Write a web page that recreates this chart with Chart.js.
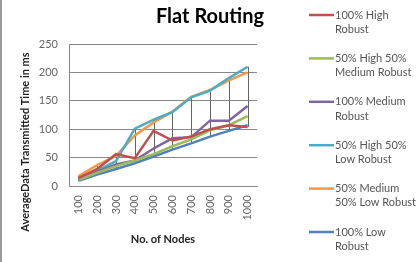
<!DOCTYPE html>
<html>
<head>
<meta charset="utf-8">
<script src="https://cdn.jsdelivr.net/npm/chart.js@4.4.0/dist/chart.umd.min.js"></script>
<style>
html, body { margin: 0; padding: 0; background: #fff; }
#wrap { width: 418px; height: 262px; }
</style>
</head>
<body>
<div id="wrap"><canvas id="chart" width="418" height="262"></canvas></div>
<script>
// values (ms)
const nodes = ['100', '200', '300', '400', '500', '600', '700', '800', '900', '1000'];
const highRobust = [14, 30, 56, 49, 97, 80, 87, 100, 107, 104];
const highMediumRobust = [11, 23, 35, 45, 56, 70, 82, 98, 107, 123];
const mediumRobust = [12, 25, 38, 45, 66, 84, 86, 115, 115, 141];
const highLowRobust = [13, 27, 44, 101, 117, 130, 156, 168, 190, 210];
const mediumLowRobust = [17, 37, 53, 89, 112, 131, 157, 169, 186, 200];
const lowRobust = [9, 20, 30, 40, 52, 64, 75, 87, 97, 107];
const yTicks = [0, 50, 100, 150, 200, 250];

const seriesNames = [
    ['100% High', 'Robust'],
    ['50% High 50%', 'Medium Robust'],
    ['100% Medium', 'Robust'],
    ['50% High 50%', 'Low Robust'],
    ['50% Medium', '50% Low Robust'],
    ['100% Low', 'Robust']
];
const seriesValues = [highRobust, highMediumRobust, mediumRobust, highLowRobust, mediumLowRobust, lowRobust];
const seriesColors = ['#C0504D', '#9BBB59', '#8064A2', '#4BACC6', '#F79646', '#4F81BD'];

const FONT = 'Lato, "Liberation Sans", sans-serif';

// high-low lines between the top and bottom series at each category
const highLowLines = {
    id: 'highLowLines',
    beforeDatasetsDraw(chart) {
        const ctx = chart.ctx;
        const x = chart.scales.x;
        const y = chart.scales.y;
        ctx.save();
        ctx.strokeStyle = '#666';
        ctx.lineWidth = 1;
        nodes.forEach((n, i) => {
            const vals = seriesValues.map(s => s[i]);
            const px = Math.round(x.getPixelForValue(i)) + 0.5;
            ctx.beginPath();
            ctx.moveTo(px, y.getPixelForValue(Math.max(...vals)));
            ctx.lineTo(px, y.getPixelForValue(Math.min(...vals)));
            ctx.stroke();
        });
        ctx.restore();
    }
};

// title, y axis title and the wrapped legend on the right
const decorations = {
    id: 'decorations',
    afterDraw(chart) {
        const ctx = chart.ctx;
        ctx.save();

        ctx.strokeStyle = '#999';
        ctx.lineWidth = 2;
        ctx.beginPath();
        ctx.moveTo(1, 0);
        ctx.lineTo(1, 262);
        ctx.stroke();

        ctx.fillStyle = '#000';
        ctx.font = 'bold 20px ' + FONT;
        ctx.textAlign = 'center';
        ctx.textBaseline = 'middle';
        ctx.fillText('Flat Routing', 210, 17);

        ctx.save();
        ctx.translate(25, 142);
        ctx.rotate(-Math.PI / 2);
        ctx.font = 'bold 11px ' + FONT;
        ctx.fillStyle = '#222';
        ctx.fillText('AverageData Transmitted Time in ms', 0, 0);
        ctx.restore();

        ctx.textAlign = 'left';
        ctx.font = '11px ' + FONT;
        seriesNames.forEach((lines, i) => {
            const top = 15 + i * 43.4;
            ctx.strokeStyle = seriesColors[i];
            ctx.lineWidth = 2.5;
            ctx.beginPath();
            ctx.moveTo(309, top);
            ctx.lineTo(334, top);
            ctx.stroke();
            ctx.fillStyle = '#555';
            lines.forEach((t, j) => ctx.fillText(t, 335, top + j * 14.3));
        });
        ctx.restore();
    }
};

const datasets = seriesValues.map((vals, i) => ({
    label: seriesNames[i].join(' '),
    data: vals,
    borderColor: seriesColors[i],
    backgroundColor: seriesColors[i],
    borderWidth: 2.5,
    pointRadius: 0,
    tension: 0
}));

new Chart(document.getElementById('chart'), {
    type: 'line',
    data: { labels: nodes, datasets: datasets },
    options: {
        responsive: false,
        animation: false,
        layout: { padding: { top: 44, right: 161, left: 0, bottom: 0 } },
        plugins: {
            legend: { display: false },
            title: { display: false },
            tooltip: { enabled: false }
        },
        scales: {
            x: {
                offset: true,
                grid: { display: false, drawTicks: false },
                border: { display: true, color: '#888' },
                ticks: {
                    autoSkip: false,
                    minRotation: 90,
                    maxRotation: 90,
                    padding: 9,
                    color: '#666',
                    font: { family: FONT, size: 11 }
                },
                title: {
                    display: true,
                    text: 'No. of Nodes',
                    color: '#222',
                    font: { family: FONT, size: 11, weight: 'bold' },
                    padding: { top: 0, bottom: 16 }
                },
                afterFit: s => { s.height = 76; }
            },
            y: {
                min: 0,
                max: 250,
                afterBuildTicks: s => { s.ticks = yTicks.map(v => ({ value: v })); },
                grid: { color: '#888', drawTicks: false },
                border: { display: true, color: '#888' },
                ticks: {
                    padding: 11,
                    color: '#666',
                    font: { family: FONT, size: 11 }
                },
                afterFit: s => { s.width = 69; }
            }
        }
    },
    plugins: [highLowLines, decorations]
});
</script>
</body>
</html>
